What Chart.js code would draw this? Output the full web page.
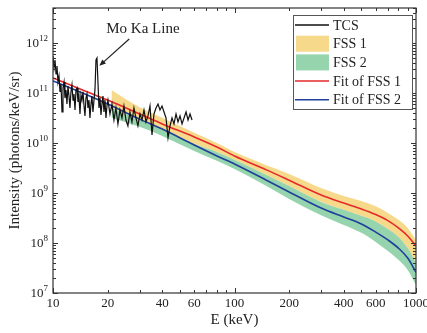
<!DOCTYPE html>
<html>
<head>
<meta charset="utf-8">
<script src="https://cdn.jsdelivr.net/npm/chart.js@4.4.1/dist/chart.umd.min.js"></script>
<style>
  html, body { margin: 0; padding: 0; background: #fff; }
  #wrap { width: 427px; height: 333px; }
</style>
</head>
<body>
<div id="wrap"><canvas id="fssChart" width="427" height="333"></canvas></div>
<script>
// TCS measured spectrum (keV, photons/keV/sr)
const tcsE = [10.0, 10.13, 10.26, 10.39, 10.52, 10.65, 10.79, 10.93, 11.07, 11.21, 11.35, 11.5, 11.64, 11.79, 11.94, 12.09,
  12.25, 12.4, 12.56, 12.72, 12.89, 13.05, 13.22, 13.39, 13.56, 13.73, 13.9, 14.08, 14.26, 14.44, 14.63, 14.81, 15.0,
  15.19, 15.39, 15.58, 15.78, 15.98, 16.19, 16.39, 16.6, 16.82, 17.03, 17.25, 17.47, 17.69, 17.92, 18.15, 18.38, 18.61,
  18.85, 19.09, 19.33, 19.58, 19.83, 20.08, 20.6, 21.13, 21.67, 22.22, 22.79, 23.38, 23.98, 24.59, 25.23, 25.87, 26.54,
  27.22, 27.92, 28.64, 29.37, 30.15, 30.93, 31.72, 32.54, 33.37, 34.23, 35.11, 36.01, 36.94, 37.89, 38.86, 39.86, 40.89,
  41.94, 43.02, 44.12, 45.26, 46.42, 47.62, 48.84, 50.1, 51.39, 52.71, 54.07, 55.46, 56.88, 58.35];
const tcsI = [5.5e11, 3.16e11, 4.57e11, 2.4e11, 3.47e11, 1.66e11, 2.19e11, 1.05e11, 1.51e11, 4.17e10, 1.26e11, 1.66e11,
  7.9e10, 1.15e11, 6.0e10, 1.38e11, 8.7e10, 5.0e10, 1.05e11, 1.45e11, 7.2e10, 9.5e10, 4.57e10, 1.15e11, 1.26e11, 6.6e10,
  8.7e10, 3.8e10, 9.1e10, 7.2e10, 1.05e11, 5.75e10, 3.47e10, 7.9e10, 9.5e10, 5.0e10, 7.2e10, 3.16e10, 6.0e10, 8.7e10,
  4.17e10, 7.2e10, 1.15e11, 4.57e11, 5.0e11, 1.66e11, 5.0e10, 7.9e10, 3.63e10, 6.0e10, 8.7e10, 4.17e10, 7.2e10, 3.16e10,
  5.5e10, 7.2e10, 3.8e10, 6.0e10, 2.88e10, 5.0e10, 2.4e10, 4.57e10, 3.16e10, 5.5e10, 2.88e10, 2.19e10, 4.17e10, 2.63e10,
  5.0e10, 3.16e10, 2.19e10, 3.8e10, 2.88e10, 4.57e10, 2.63e10, 3.47e10, 5.5e10, 1.45e10, 3.8e10, 5.0e10, 6.0e10, 4.57e10,
  5.5e10, 4.17e10, 3.16e10, 1.26e10, 2.19e10, 3.16e10, 2.4e10, 3.8e10, 2.63e10, 3.47e10, 2.4e10, 3.16e10, 4.17e10,
  2.88e10, 3.8e10, 2.88e10];

// fitted curves
const fitE = [10, 15, 20, 30, 40, 60, 80, 100, 150, 200, 300, 400, 500, 600, 700, 800, 900, 1000];
const fit1I = [2.0e11, 1.1e11, 7.2e10, 3.8e10, 2.4e10, 1.32e10, 8.3e9, 5.5e9, 2.9e9, 1.8e9, 9.1e8, 6.3e8, 4.8e8, 3.7e8,
  2.8e8, 2.0e8, 1.38e8, 8.7e7];
const fit2I = [1.74e11, 9.5e10, 6.0e10, 3.0e10, 1.9e10, 9.1e9, 5.5e9, 3.8e9, 1.8e9, 1.05e9, 5.0e8, 3.3e8, 2.4e8, 1.65e8,
  1.15e8, 7.9e7, 5.0e7, 2.6e7];

// FSS uncertainty bands
const bandE = [21, 30, 40, 60, 80, 100, 150, 200, 300, 400, 500, 600, 700, 800, 900, 1000];
const fss1Upper = [1.15e11, 5.2e10, 3.2e10, 1.6e10, 1.0e10, 6.6e9, 3.6e9, 2.4e9, 1.26e9, 8.7e8, 6.9e8, 5.4e8, 4.0e8,
  2.9e8, 2.0e8, 1.15e8];
const fss1Lower = [5.0e10, 2.9e10, 1.9e10, 9.5e9, 6.6e9, 4.6e9, 2.3e9, 1.38e9, 6.6e8, 4.6e8, 3.5e8, 2.7e8, 1.9e8,
  1.32e8, 7.9e7, 4.0e7];
const fss2Upper = [5.0e10, 2.9e10, 1.9e10, 9.5e9, 6.6e9, 4.6e9, 2.3e9, 1.38e9, 6.6e8, 4.6e8, 3.5e8, 2.7e8, 1.9e8,
  1.32e8, 7.9e7, 4.0e7];
const fss2Lower = [3.2e10, 2.1e10, 1.38e10, 6.9e9, 4.4e9, 3.0e9, 1.38e9, 7.6e8, 3.6e8, 2.3e8, 1.6e8, 1.05e8, 6.9e7,
  4.6e7, 2.9e7, 1.45e7];

const xTickLabels = [10, 20, 40, 60, 100, 200, 400, 600, 1000];
const yDecades = [7, 8, 9, 10, 11, 12];

// Mo Ka annotation (data coords)
const moLabel = { x: 31.3, y: 1.9e12, text: 'Mo Ka Line' };
const moArrow = { fromX: 26.3, fromY: 1.2e12, toX: 18.0, toY: 3.5e11 };

const SERIF = "'Liberation Serif', 'Times New Roman', serif";
const pts = (xs, ys) => xs.map((x, i) => ({ x, y: ys[i] }));

// frame, inward ticks, tick labels, legend, annotation
const decor = {
  id: 'decor',
  afterDraw(chart) {
    const { ctx, chartArea: a, scales: { x, y } } = chart;
    ctx.save();
    ctx.strokeStyle = '#333';
    ctx.lineWidth = 1.2;
    ctx.strokeRect(a.left, a.top, a.right - a.left, a.bottom - a.top);

    ctx.lineWidth = 1;
    ctx.beginPath();
    for (let d = 1; d <= 3; d++) {
      for (let m = 1; m <= 9; m++) {
        const v = m * Math.pow(10, d);
        if (v > 1000) break;
        const px = Math.round(x.getPixelForValue(v)) + 0.5;
        const len = m === 1 ? 5 : 3;
        ctx.moveTo(px, a.bottom); ctx.lineTo(px, a.bottom - len);
        ctx.moveTo(px, a.top); ctx.lineTo(px, a.top + len);
      }
    }
    for (const e of yDecades) {
      for (let m = 1; m <= 9; m++) {
        const v = m * Math.pow(10, e);
        if (v > y.max) break;
        const py = Math.round(y.getPixelForValue(v)) + 0.5;
        const len = m === 1 ? 5 : 3;
        ctx.moveTo(a.left, py); ctx.lineTo(a.left + len, py);
        ctx.moveTo(a.right, py); ctx.lineTo(a.right - len, py);
      }
    }
    ctx.stroke();

    ctx.fillStyle = '#222';
    ctx.font = '13px ' + SERIF;
    ctx.textAlign = 'center';
    ctx.textBaseline = 'middle';
    xTickLabels.forEach(v => ctx.fillText(String(v), x.getPixelForValue(v), a.bottom + 11));

    yDecades.forEach(e => {
      const py = y.getPixelForValue(Math.pow(10, e));
      ctx.font = '9px ' + SERIF;
      const ew = ctx.measureText(String(e)).width;
      ctx.textAlign = 'right';
      ctx.fillText(String(e), a.left - 5, py - 4);
      ctx.font = '13px ' + SERIF;
      ctx.fillText('10', a.left - 5 - ew, py + 1);
    });

    // annotation
    ctx.font = '15px ' + SERIF;
    ctx.textAlign = 'center';
    ctx.fillText(moLabel.text, x.getPixelForValue(moLabel.x), y.getPixelForValue(moLabel.y));
    const x0 = x.getPixelForValue(moArrow.fromX), y0 = y.getPixelForValue(moArrow.fromY);
    const x1 = x.getPixelForValue(moArrow.toX), y1 = y.getPixelForValue(moArrow.toY);
    const ang = Math.atan2(y1 - y0, x1 - x0);
    ctx.strokeStyle = '#222';
    ctx.lineWidth = 1.2;
    ctx.beginPath();
    ctx.moveTo(x0, y0);
    ctx.lineTo(x1 - 4 * Math.cos(ang), y1 - 4 * Math.sin(ang));
    ctx.stroke();
    ctx.fillStyle = '#222';
    ctx.beginPath();
    ctx.moveTo(x1, y1);
    ctx.lineTo(x1 - 7 * Math.cos(ang - 0.4), y1 - 7 * Math.sin(ang - 0.4));
    ctx.lineTo(x1 - 7 * Math.cos(ang + 0.4), y1 - 7 * Math.sin(ang + 0.4));
    ctx.closePath();
    ctx.fill();

    // legend
    const ds = chart.data.datasets;
    const items = [
      { d: ds[0], box: false }, { d: ds[3], box: true }, { d: ds[5], box: true },
      { d: ds[1], box: false }, { d: ds[2], box: false }
    ];
    const lx = a.right - 123, ly = a.top + 7;
    ctx.fillStyle = '#fff';
    ctx.fillRect(lx, ly, 119, 94);
    ctx.strokeStyle = '#555';
    ctx.lineWidth = 1;
    ctx.strokeRect(lx + 0.5, ly + 0.5, 119, 94);
    ctx.font = '14px ' + SERIF;
    ctx.textAlign = 'left';
    items.forEach((it, i) => {
      const cy = ly + 10 + i * 18.7;
      if (it.box) {
        ctx.fillStyle = it.d.backgroundColor;
        ctx.fillRect(lx + 3, cy - 8, 33, 16);
      } else {
        ctx.strokeStyle = it.d.borderColor;
        ctx.lineWidth = 1.5;
        ctx.beginPath();
        ctx.moveTo(lx + 2, cy); ctx.lineTo(lx + 36, cy);
        ctx.stroke();
      }
      ctx.fillStyle = '#222';
      ctx.fillText(it.d.label, lx + 40, cy + 1);
    });
    ctx.restore();
  }
};

const smooth = { tension: 0.4, cubicInterpolationMode: 'monotone' };

const ctx = document.getElementById('fssChart').getContext('2d');
const chart = new Chart(ctx, {
  type: 'scatter',
  data: {
    datasets: [
      { label: 'TCS', data: pts(tcsE, tcsI), showLine: true, borderColor: '#111', borderWidth: 1.2,
        pointRadius: 0, order: 0 },
      { label: 'Fit of FSS 1', data: pts(fitE, fit1I), showLine: true, borderColor: '#e52a2a', borderWidth: 1.6,
        pointRadius: 0, ...smooth, order: 1 },
      { label: 'Fit of FSS 2', data: pts(fitE, fit2I), showLine: true, borderColor: '#1f3f9c', borderWidth: 1.6,
        pointRadius: 0, ...smooth, order: 1 },
      { label: 'FSS 1', data: pts(bandE, fss1Upper), showLine: true, fill: '+1', backgroundColor: '#f6d98b',
        borderWidth: 0, pointRadius: 0, ...smooth, order: 3 },
      { label: 'FSS 1 low', data: pts(bandE, fss1Lower), showLine: true, borderWidth: 0, pointRadius: 0,
        ...smooth, order: 3 },
      { label: 'FSS 2', data: pts(bandE, fss2Upper), showLine: true, fill: '+1', backgroundColor: '#95d4ac',
        borderWidth: 0, pointRadius: 0, ...smooth, order: 2 },
      { label: 'FSS 2 low', data: pts(bandE, fss2Lower), showLine: true, borderWidth: 0, pointRadius: 0,
        ...smooth, order: 2 }
    ]
  },
  options: {
    responsive: false,
    animation: false,
    layout: { padding: { top: 8, right: 11, left: 0, bottom: 0 } },
    plugins: { legend: { display: false }, tooltip: { enabled: false } },
    scales: {
      x: {
        type: 'logarithmic', min: 10, max: 1000,
        grid: { display: false }, border: { display: false },
        ticks: { display: false },
        title: { display: true, text: 'E (keV)', color: '#222', font: { family: SERIF, size: 15 },
          padding: { top: 0, bottom: 3.5 } },
        afterFit(s) { s.height = 40; }
      },
      y: {
        type: 'logarithmic', min: 1e7, max: 5e12,
        grid: { display: false }, border: { display: false },
        ticks: { display: false },
        title: { display: true, text: 'Intensity (photons/keV/sr)', color: '#222', font: { family: SERIF, size: 15 },
          padding: { top: 6, bottom: 0 } },
        afterFit(s) { s.width = 53; }
      }
    }
  },
  plugins: [decor]
});
</script>
</body>
</html>
